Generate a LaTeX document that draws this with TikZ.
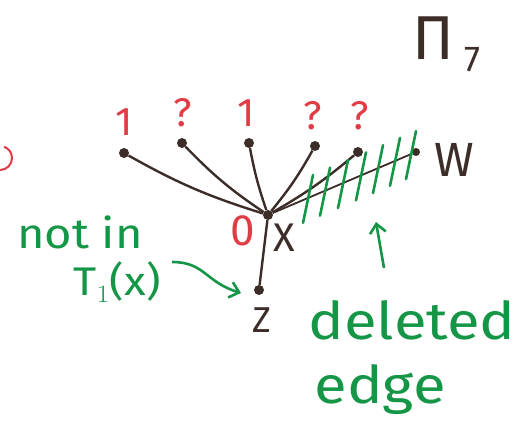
\documentclass[tikz,border=0pt]{standalone}
\usepackage{fontspec}
\setmainfont{Fira Sans}
\usetikzlibrary{arrows.meta}
\definecolor{ink}{RGB}{60,45,40}
\definecolor{pen}{RGB}{20,150,70}
\definecolor{redpen}{RGB}{225,60,70}
\begin{document}
\begin{tikzpicture}[x=1pt,y=-1pt,
  vert/.style={circle,fill=ink,inner sep=0pt,minimum size=10pt},
  edgeline/.style={ink,line width=2.4pt},
  redlab/.style={text=redpen,font=\fontsize{40}{40}\selectfont},
  blacklab/.style={text=ink,font=\fontsize{36}{36}\selectfont},
  greenlab/.style={text=pen,inner sep=0pt},
  hatch/.style={pen,line width=2.6pt,line cap=round},
  garrow/.style={pen,line width=2.6pt,-{Straight Barb[length=9pt,width=16pt]}}]
\useasboundingbox (0,0) rectangle (528,424);
% vertices
\node[vert] (x) at (268,215) {};
\node[vert] (a) at (124,153) {};
\node[vert] (b) at (182,143) {};
\node[vert] (c) at (249,143) {};
\node[vert] (d) at (315,146) {};
\node[vert] (e) at (358,152) {};
\node[vert,minimum size=8pt] (w) at (416,152) {};
\node[vert] (z) at (259,290) {};
% edges
\draw[edgeline] (x) to[bend left=6] (a);
\draw[edgeline] (x) to[bend left=6] (b);
\draw[edgeline] (x) to[bend left=4] (c);
\draw[edgeline] (x) to[bend right=5] (d);
\draw[edgeline] (x) to[bend right=5] (e);
\draw[ink,line width=1.8pt] (x) -- (w);
\draw[edgeline] (x) -- (z);
% red labels
\node[redlab] (l1) at (124,122) {1};
\node[redlab] (l2) at (183,113) {?};
\node[redlab] (l3) at (246,113) {1};
\node[redlab] (l4) at (313,116) {?};
\node[redlab] (l5) at (360,116) {?};
\node[redlab,font=\fontsize{44}{44}\selectfont] (l0) at (243,231) {0};
% black labels
\node[blacklab,font=\fontsize{48}{48}\selectfont] (lw) at (454,160) {W};
\node[blacklab,font=\fontsize{40}{40}\selectfont] (lx) at (284,238) {X};
\node[blacklab] (lz) at (262,320) {Z};
\node[text=ink,font=\fontsize{62}{62}\selectfont] (pi) at (433,38) {Π};
\node[text=ink,font=\fontsize{36}{36}\selectfont] (pisub) at (472,60) {7};
% hatch marks on deleted edge
\foreach \hx in {308,325,343,361,378,395,411}{
  \pgfmathsetmacro{\ye}{215-0.426*(\hx-268)}
  \draw[hatch] (\hx-5,\ye+25) -- (\hx+5,\ye-23);
}
% green text
\node[greenlab,font=\fontsize{42}{42}\selectfont,xscale=1.12] (notin) at (80,232) {not in};
\node[greenlab,font=\fontsize{40}{40}\selectfont,xscale=1.12] (t1) at (117,282) {T$_1$(x)};
\node[greenlab,font=\fontsize{52}{52}\selectfont,xscale=1.15] (del) at (412,320) {deleted};
\node[greenlab,font=\fontsize{52}{52}\selectfont,xscale=1.15] (edge) at (380,390) {edge};
\coordinate (sq) at (172,262);
\coordinate (sqend) at (241,293);
\draw[garrow] (sq) .. controls (205,262) and (205,282) .. (sqend);
\coordinate (upstart) at (384,268);
\coordinate (upend) at (376,222);
\draw[garrow] (upstart) -- (upend);
% red arc at left margin
\draw[redpen,line width=2pt] (0,170) arc (90:-70:12);
\end{tikzpicture}
\end{document}
